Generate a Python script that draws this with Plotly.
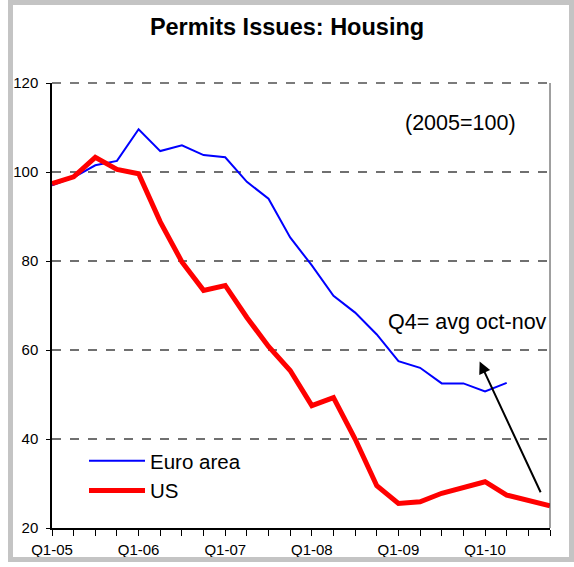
import plotly.graph_objects as go

quarters = [f"Q{q}-{y:02d}" for y in range(5, 11) for q in range(1, 5)]
euro_area = [97.0, 98.8, 101.5, 102.5, 109.6, 104.7, 106.0, 103.8, 103.3, 97.8, 94.0, 85.3,
             79.0, 72.2, 68.4, 63.5, 57.5, 56.0, 52.5, 52.5, 50.7, 52.6]
us = [97.4, 98.9, 103.3, 100.6, 99.6, 88.8, 79.8, 73.4, 74.5, 67.3, 60.8, 55.4,
      47.5, 49.3, 40.0, 29.5, 25.5, 25.9, 27.8, 29.1, 30.4, 27.4, 26.1, 25.0]
tick_labels = ["Q1-05", "Q1-06", "Q1-07", "Q1-08", "Q1-09", "Q1-10"]

FONT = "Liberation Sans, Arial, sans-serif"
x_idx = list(range(len(quarters)))
tick_pos = [quarters.index(t) for t in tick_labels]

fig = go.Figure()
fig.add_trace(go.Scatter(x=x_idx[:len(euro_area)], y=euro_area, mode="lines", name="Euro area",
                         line=dict(color="#0000ff", width=2), cliponaxis=False))
fig.add_trace(go.Scatter(x=x_idx[:len(us)], y=us, mode="lines", name="US",
                         line=dict(color="#ff0000", width=5), cliponaxis=False))

W, H = 574, 567
L, R, T, B = 52, 24, 83, 39
pw, ph = W - L - R, H - T - B

def px(x):
    return (x - L) / pw

def py(y):
    return (H - B - y) / ph

fig.update_layout(
    width=W, height=H,
    margin=dict(l=L, r=R, t=T, b=B, pad=0, autoexpand=False),
    paper_bgcolor="white", plot_bgcolor="white",
    font=dict(family=FONT, color="#000000"),
    title=dict(text="<b>Permits Issues: Housing</b>", x=0.5, xref="container", xanchor="center",
               y=1 - 27 / H, yref="container", yanchor="middle",
               font=dict(size=23.5, family=FONT, color="#000000")),
    showlegend=True,
    legend=dict(x=px(84), y=py(441), xanchor="left", yanchor="top",
                font=dict(size=20.5, family=FONT), bgcolor="rgba(0,0,0,0)",
                itemwidth=56, tracegroupgap=0, traceorder="normal"),
    xaxis=dict(range=[0, len(quarters) - 1], tickmode="array", tickvals=tick_pos, ticktext=tick_labels,
               ticks="outside", ticklen=6, tickwidth=1, tickcolor="#000000", ticklabelstandoff=1,
               minor=dict(dtick=1, tick0=0, ticks="outside", ticklen=6, tickcolor="#000000", showgrid=False),
               showline=True, linecolor="#000000", linewidth=1.5, showgrid=False, zeroline=False,
               automargin=False, tickfont=dict(size=15, family=FONT)),
    yaxis=dict(range=[20, 120], dtick=20, tick0=20, ticks="outside", ticklen=4, tickcolor="#000000",
               ticklabelstandoff=5, automargin=False,
               showline=True, linecolor="#000000", linewidth=1.5,
               showgrid=True, gridcolor="#707070", griddash="dash", gridwidth=1.5, zeroline=False,
               tickfont=dict(size=15, family=FONT)),
)

# plot-area right border and top dashed line
fig.add_shape(type="line", xref="paper", yref="paper", x0=1, x1=1, y0=0, y1=1,
              line=dict(color="#404040", width=1))
fig.add_shape(type="line", xref="paper", yref="paper", x0=0, x1=1, y0=1, y1=1,
              line=dict(color="#505050", width=1.5, dash="dash"))
# outer frame
fig.add_shape(type="rect", xref="paper", yref="paper",
              x0=px(10.5), x1=px(571.5), y0=py(559.5), y1=py(2.5),
              line=dict(color="#c4c4c4", width=5), fillcolor="rgba(0,0,0,0)", layer="above")

fig.add_annotation(text="(2005=100)", xref="paper", yref="paper", x=px(460), y=py(123),
                   xanchor="center", yanchor="middle",
                   showarrow=False, font=dict(size=21.5, family=FONT, color="#000000"))
fig.add_annotation(text="Q4= avg oct-nov", xref="paper", yref="paper", x=px(467), y=py(322),
                   xanchor="center", yanchor="middle",
                   showarrow=False, font=dict(size=21.5, family=FONT, color="#000000"))
fig.add_annotation(text="", x=19.75, y=57.4, ax=22.6, ay=27.7, xref="x", yref="y",
                   axref="x", ayref="y", showarrow=True, arrowhead=2, arrowsize=1.2,
                   arrowwidth=2, arrowcolor="#000000")

fig.write_html("out.html", config={"displayModeBar": False},
               post_script="document.body.style.margin='0px';")
